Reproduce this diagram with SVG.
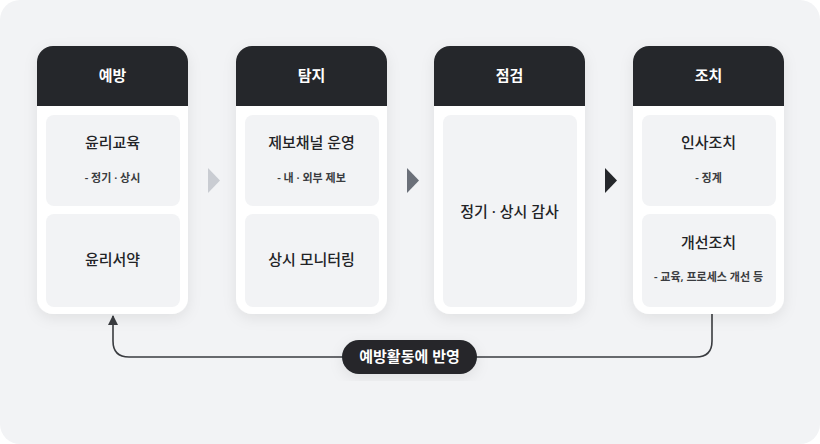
<svg xmlns="http://www.w3.org/2000/svg" width="820" height="444" viewBox="0 0 820 444">
  <defs>
    <style>
      .title{font-family:"Noto Sans","Noto Sans CJK KR",sans-serif;}
      .hdr{font-size:15px;font-weight:700;fill:#ffffff;text-anchor:middle;}
      .main{font-size:15px;font-weight:500;fill:#222326;text-anchor:middle;}
      .sub{font-size:11px;font-weight:600;fill:#3a3c40;text-anchor:middle;}
      .card{fill:#ffffff;}
      .head{fill:#25272b;}
      .box{fill:#f2f3f5;}
      .link{fill:none;stroke:#3a3c40;stroke-width:1.6;}
    </style>
    <filter id="sh" x="-20%" y="-20%" width="140%" height="140%">
      <feDropShadow dx="0" dy="4" stdDeviation="7" flood-color="#000000" flood-opacity="0.08"/>
    </filter>
    <marker id="ah" viewBox="0 0 10 10" refX="9" refY="5" markerWidth="10" markerHeight="10" markerUnits="userSpaceOnUse" orient="auto">
      <path d="M0,0 L10,5 L0,10 Z" fill="#3a3c40"/>
    </marker>
    <clipPath id="c1"><rect x="37" y="46" width="151" height="268" rx="16"/></clipPath>
    <clipPath id="c2"><rect x="236" y="46" width="151" height="268" rx="16"/></clipPath>
    <clipPath id="c3"><rect x="434" y="46" width="151" height="268" rx="16"/></clipPath>
    <clipPath id="c4"><rect x="633" y="46" width="151" height="268" rx="16"/></clipPath>
  </defs>

  <rect x="0" y="0" width="820" height="444" rx="20" fill="#f2f3f5"/>

  <g id="connectors">
    <path class="link" d="M712 314 V341 Q712 357 696 357 H129 Q113 357 113 341 V316" marker-end="url(#ah)"/>
    <polygon points="208,168 220,180.5 208,193" fill="#c9ccd2"/>
    <polygon points="407,168 419,180.5 407,193" fill="#6b7079"/>
    <polygon points="605,168 617,180.5 605,193" fill="#25272b"/>
    <g id="feedback-label">
      <rect x="342" y="340" width="135" height="34" rx="17" fill="#25272b" filter="url(#sh)"/>
      <text class="title" x="409.5" y="362" font-size="15" font-weight="700" fill="#ffffff" text-anchor="middle">예방활동에 반영</text>
    </g>
  </g>

  <g id="node-prevent">
    <rect class="card" x="37" y="46" width="151" height="268" rx="16" filter="url(#sh)"/>
    <rect class="head" x="37" y="46" width="151" height="60" clip-path="url(#c1)"/>
    <text class="title hdr" x="112.5" y="81">예방</text>
    <rect class="box" x="46" y="115" width="134" height="91" rx="8"/>
    <text class="title main" x="112.5" y="148">윤리교육</text>
    <text class="title sub" x="112.5" y="182">- 정기 · 상시</text>
    <rect class="box" x="46" y="214" width="134" height="93" rx="8"/>
    <text class="title main" x="112.5" y="265">윤리서약</text>
  </g>

  <g id="node-detect">
    <rect class="card" x="236" y="46" width="151" height="268" rx="16" filter="url(#sh)"/>
    <rect class="head" x="236" y="46" width="151" height="60" clip-path="url(#c2)"/>
    <text class="title hdr" x="311.5" y="81">탐지</text>
    <rect class="box" x="245" y="115" width="134" height="91" rx="8"/>
    <text class="title main" x="311.5" y="148">제보채널 운영</text>
    <text class="title sub" x="311.5" y="182">- 내 · 외부 제보</text>
    <rect class="box" x="245" y="214" width="134" height="93" rx="8"/>
    <text class="title main" x="311.5" y="265">상시 모니터링</text>
  </g>

  <g id="node-inspect">
    <rect class="card" x="434" y="46" width="151" height="268" rx="16" filter="url(#sh)"/>
    <rect class="head" x="434" y="46" width="151" height="60" clip-path="url(#c3)"/>
    <text class="title hdr" x="509.5" y="81">점검</text>
    <rect class="box" x="443" y="115" width="134" height="192" rx="8"/>
    <text class="title main" x="509.5" y="217">정기 · 상시 감사</text>
  </g>

  <g id="node-action">
    <rect class="card" x="633" y="46" width="151" height="268" rx="16" filter="url(#sh)"/>
    <rect class="head" x="633" y="46" width="151" height="60" clip-path="url(#c4)"/>
    <text class="title hdr" x="708.5" y="81">조치</text>
    <rect class="box" x="642" y="115" width="134" height="91" rx="8"/>
    <text class="title main" x="708.5" y="148">인사조치</text>
    <text class="title sub" x="708.5" y="182">- 징계</text>
    <rect class="box" x="642" y="214" width="134" height="93" rx="8"/>
    <text class="title main" x="708.5" y="248">개선조치</text>
    <text class="title sub" x="708.5" y="281">- 교육, 프로세스 개선 등</text>
  </g>
</svg>
